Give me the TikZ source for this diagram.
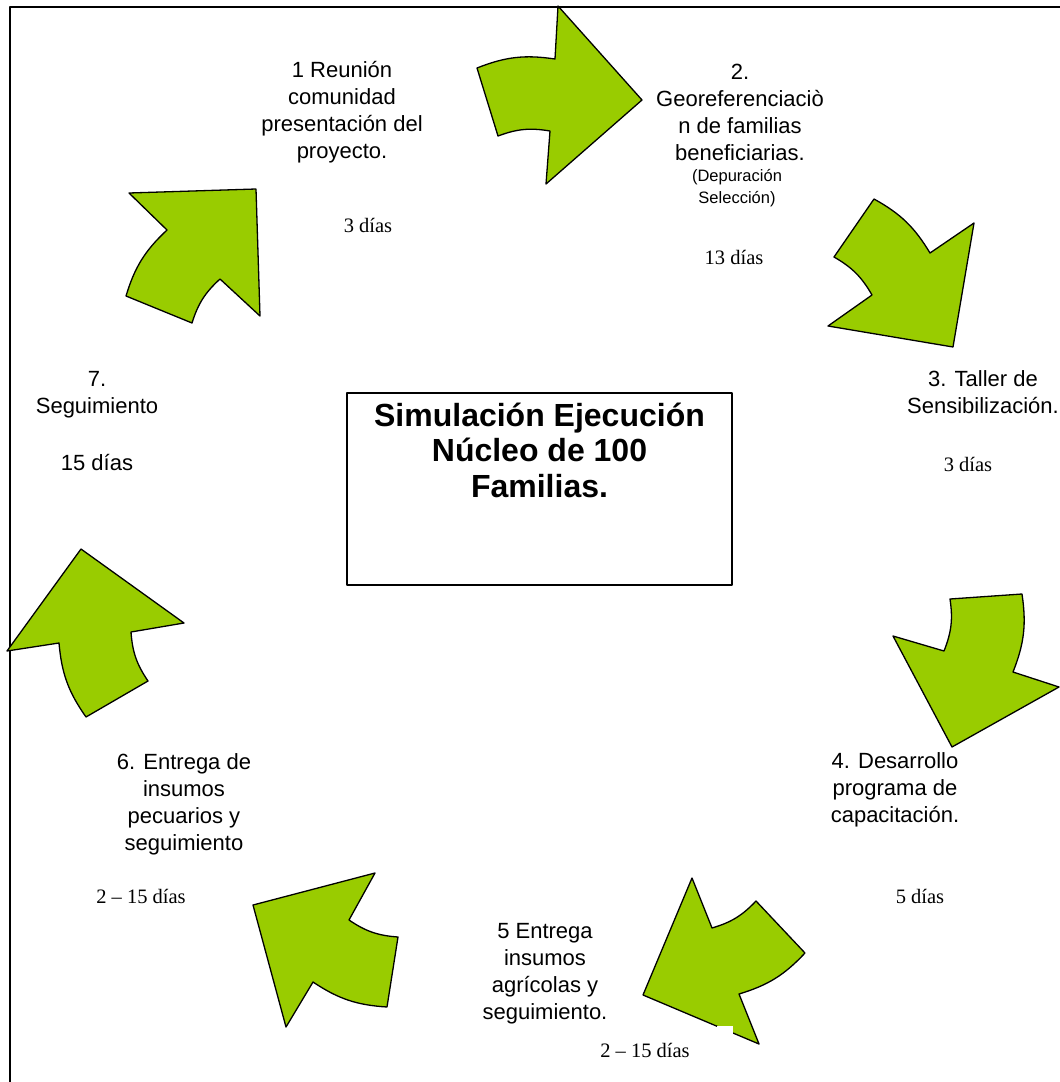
\documentclass[tikz,border=0pt]{standalone}
\usepackage{fontspec}
\setmainfont{Liberation Serif}
\setsansfont{Liberation Sans}
\usepackage{tikz}
\usetikzlibrary{positioning}
\definecolor{verdeflecha}{RGB}{153,204,0}

\begin{document}
\begin{tikzpicture}[line cap=round,line join=round, x=1pt,y=-1pt,
  flecha/.style={draw=black, fill=verdeflecha, line width=1.3pt},
  paso/.style={align=center, inner sep=0pt, font=\sffamily\fontsize{22}{27}\selectfont},
  dias/.style={inner sep=0pt, font=\rmfamily\fontsize{20.5}{24}\selectfont}]
\useasboundingbox (0,0) rectangle (1060,1082);
\draw [line width=2pt, line cap=butt] (9.5,1082) -- (9.5,7) -- (1060,7);
\draw [flecha] (126,296) to[bend left=15] (167,230) -- (129,193) -- (256,189) -- (260,316) -- (220,279) to[bend right=15] (192,323) -- cycle;
\draw [flecha] (477,68) to[bend left=15] (555,59) -- (558,6) -- (642,100) -- (546,184) -- (550,131) to[bend right=15] (498,136) -- cycle;
\draw [flecha] (874,199) to[bend left=15] (930,253) -- (974,223) -- (953,347) -- (828,326) -- (872,295) to[bend right=15] (834,257) -- cycle;
\draw [flecha] (1022,594) to[bend left=15] (1013,672) -- (1059,687) -- (952,747) -- (893,636) -- (944,651) to[bend right=15] (950,599) -- cycle;
\draw [flecha] (712,928) to[bend right=15] (756,901) -- (805,953) to[bend left=15] (739,994) -- (759,1044) -- (643,995) -- (692,878) -- cycle;
\fill [white] (717,1026) rectangle (733,1046);
\draw [flecha] (349,920) to[bend right=15] (398,937) -- (387,1007) to[bend left=15] (313,982) -- (286,1027) -- (253,905) -- (375,873) -- cycle;
\draw [flecha] (131,632) to[bend right=15] (148,681) -- (86,717) to[bend left=15] (59,643) -- (7,651) -- (81,549) -- (184,623) -- cycle;
\node [draw, line width=1.3pt, minimum width=385pt, minimum height=192pt, inner sep=0pt] (nucleo) at (539.5,489) {};
\node [align=center, inner sep=0pt, font=\sffamily\bfseries\fontsize{32}{35.5}\selectfont, below=10pt of nucleo.north] (titulo) {Simulación Ejecución\\Núcleo de 100\\Familias.};
\node [paso] (paso1) at (342,112) {1 Reunión\\comunidad\\presentación del\\proyecto.};
\node [dias] (dias1) at (368,225) {3 días};
\node [paso] (paso2) at (740,112) {2.\\Georeferenciaciò\\n de familias\\beneficiarias.};
\node [paso, font=\sffamily\fontsize{16.5}{21.5}\selectfont] (sub2) at (737,188) {(Depuración\\Selección)};
\node [dias] (dias2) at (734,257) {13 días};
\node [paso] (paso3) at (983,392) {3. Taller de\\Sensibilización.};
\node [dias] (dias3) at (968,464) {3 días};
\node [paso] (paso4) at (895,790) {4. Desarrollo\\programa de\\capacitación.};
\node [dias] (dias4) at (920,896) {5 días};
\node [paso] (paso5) at (545,974) {5 Entrega\\insumos\\agrícolas y\\seguimiento.};
\node [dias] (dias5) at (645,1050) {2 – 15 días};
\node [paso] (paso6) at (184,804) {6. Entrega de\\insumos\\pecuarios y\\seguimiento};
\node [dias] (dias6) at (141,896) {2 – 15 días};
\node [paso] (paso7) at (97,395) {7.\\Seguimiento};
\node [paso] (dias7) at (97,463) {15 días};
\end{tikzpicture}
\end{document}
